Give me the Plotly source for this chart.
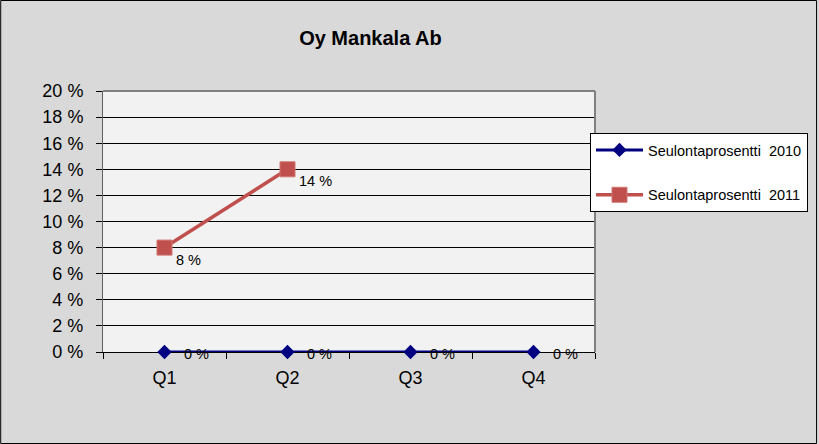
import plotly.graph_objects as go

quarters = ["Q1", "Q2", "Q3", "Q4"]
series_2010 = [0, 0, 0, 0]
series_2011 = [8, 14, None, None]
name_2010 = "Seulontaprosentti  2010"
name_2011 = "Seulontaprosentti  2011"
title_text = "Oy Mankala Ab"
y_ticks = list(range(0, 21, 2))

W, H = 819, 444
L, R, T, B = 103, 596, 91, 352
PW, PH = R - L, B - T
FONT = "Arial, Liberation Sans, sans-serif"

fig = go.Figure()
fig.add_trace(go.Scatter(
    x=quarters, y=series_2010, name=name_2010, mode="lines+markers",
    line=dict(color="#000080", width=3),
    marker=dict(symbol="diamond", size=11, color="#000080"),
    legendgroup="a", cliponaxis=False,
))
fig.add_trace(go.Scatter(
    x=quarters, y=series_2011, name=name_2011, mode="lines+markers",
    line=dict(color="#C0504D", width=3.5),
    marker=dict(symbol="square", size=15, color="#C0504D",
                line=dict(color="#D07571", width=1)),
    legendgroup="b", cliponaxis=False,
))

annotations = []
for q, v in zip(quarters, series_2010):
    annotations.append(dict(x=q, y=v, xref="x", yref="y", text=f"{v} %",
                            showarrow=False, xanchor="left", yanchor="middle",
                            xshift=17, yshift=-1.5,
                            font=dict(family=FONT, size=14.5, color="black")))
for q, v in zip(quarters, series_2011):
    if v is None:
        continue
    annotations.append(dict(x=q, y=v, xref="x", yref="y", text=f"{v} %",
                            showarrow=False, xanchor="left", yanchor="middle",
                            xshift=9, yshift=-12,
                            font=dict(family=FONT, size=14.5, color="black")))

def px_x(p):
    return (p - L) / PW

def px_y(p):
    return (B - p) / PH

shapes = [
    # outer chart border
    dict(type="rect", xref="paper", yref="paper",
         x0=px_x(0.5), x1=px_x(W - 1), y0=px_y(H - 0.5), y1=px_y(0.5),
         line=dict(color="black", width=1), layer="below"),
    # plot area top and right borders
    dict(type="line", xref="paper", yref="paper", x0=0, x1=1, y0=1, y1=1,
         line=dict(color="#808080", width=2), layer="above"),
    dict(type="line", xref="paper", yref="paper", x0=1, x1=1, y0=0, y1=1,
         line=dict(color="#808080", width=2), layer="above"),
]

fig.update_layout(
    width=W, height=H, autosize=False,
    margin=dict(l=L, r=W - R, t=T, b=H - B, pad=0),
    paper_bgcolor="#D9D9D9", plot_bgcolor="#F2F2F2",
    font=dict(family=FONT, color="black"),
    title=dict(text=f"<b>{title_text}</b>", x=px_x(371), xref="paper",
               xanchor="center", y=1 - 38 / H, yanchor="middle",
               font=dict(family=FONT, size=20, color="black")),
    showlegend=True,
    legend=dict(x=px_x(590), y=px_y(133), xanchor="left", yanchor="top",
                bgcolor="white", bordercolor="black", borderwidth=1,
                font=dict(family=FONT, size=14.5, color="black"),
                traceorder="grouped", tracegroupgap=23, itemwidth=47),
    annotations=annotations,
    shapes=shapes,
)
fig.update_xaxes(
    type="category", range=[-0.5, 3.5], tickson="boundaries",
    ticks="outside", ticklen=6, tickcolor="black", tickwidth=1,
    showline=True, linecolor="black", linewidth=1, showgrid=False,
    tickfont=dict(family=FONT, size=18, color="black"), ticklabelstandoff=9,
    fixedrange=True, layer="below traces",
)
fig.update_yaxes(
    range=[0, 20], tickvals=y_ticks, ticktext=[f"{t} %" for t in y_ticks],
    ticks="outside", ticklen=6, tickcolor="black", tickwidth=1,
    showline=True, linecolor="#606060", linewidth=1,
    showgrid=True, gridcolor="black", gridwidth=1, zeroline=False,
    tickfont=dict(family=FONT, size=18, color="black"), ticklabelstandoff=9,
    fixedrange=True, layer="below traces",
)

fig.write_html("out.html", config=dict(displayModeBar=False),
               post_script="document.body.style.margin='0';document.body.style.overflow='hidden';")
